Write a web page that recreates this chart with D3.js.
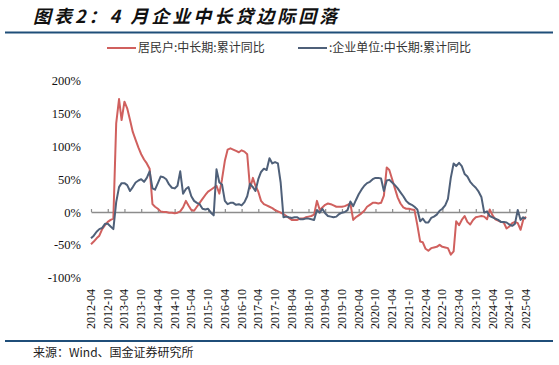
<!DOCTYPE html>
<html>
<head>
<meta charset="utf-8">
<script src="https://cdn.jsdelivr.net/npm/d3@7"></script>
<style>
  body { margin: 0; background: #fff; }
  svg { display: block; }
  .serif { font-family: "Liberation Serif", "Times New Roman", serif; }
</style>
</head>
<body>
<div id="chart"></div>
<script>
// Monthly series, 2012-04 to 2025-04 (cumulative YoY, %)
const startMonth = "2012-04";

const household = [
  -49, -45, -40, -36, -26, -20, -15, -12, -10, 135,
  172, 140, 168, 158, 140, 122, 110, 98, 88, 80,
  74, 66, 12, 8, 5, 1, 0, 0, -1, -1,
  -2, -1, 1, 7, 17, 10, 3, 2, 8, 14,
  20, 26, 31, 34, 37, 40, 28, 50, 78, 95,
  97, 95, 93, 91, 94, 92, 88, 36, 52, 40,
  31, 17, 12, 10, 8, 6, 3, 1, -1, -3,
  -6, -9, -12, -12, -12, -10, -10, -8, -7, -6,
  -4, 17, 3, 7, 11, 13, 12, 10, 8, 8,
  8, 9, 11, 13, -12, -8, -5, -2, 2, 8,
  11, 14, 14, 13, 14, 25, 68, 64, 50, 36,
  22, 13, 7, 5, 5, 4, 3, -20, -45, -46,
  -56, -59, -55, -54, -53, -50, -53, -54, -55, -65,
  -60, -14, -20, -12, -6, -15, -19, -12, -8, -7,
  -6, -7, -11, 4, -5, -11, -13, -15, -16, -25,
  -22, -17, -15, -17, -27, -12, -7
];

const corporate = [
  -40, -36, -30, -26, -24, -18, -18, -22, -26, 15,
  38, 44, 44, 41, 32, 38, 45, 48, 50, 46,
  52, 62, 36, 34, 44, 54, 53, 50, 42, 37,
  36, 40, 62, 28, 35, 38, 24, 17, 14, 12,
  5, 4, 5, -1, -5, 65, 45, 42, 17, 12,
  14, 14, 11, 12, 10, 15, 24, 43, 38, 32,
  50, 61, 66, 64, 82, 74, 76, 74, 45, -8,
  -7, -8, -9, -8, -8, -11, -11, -10, -10, -11,
  -12, 3, -1, 5, -2, -6, -7, -8, -7, -3,
  -1, 0, 3, 16, 9, 18, 27, 34, 40, 44,
  46, 50, 52, 52, 51, 32, 48, 49, 45, 41,
  36, 30, 24, 17, 13, 11, 8, 4, -14, -10,
  -16, -16, -9, -7, -4, 2, 5, 10, 20, 52,
  74, 70, 75, 70, 58, 54, 46, 41, 37, 31,
  23, -1, 1, -6, -8, -10, -12, -15, -15, -16,
  -19, -21, -18, 3, -12, -8, -10
];

const seriesNames = ["居民户:中长期:累计同比", ":企业单位:中长期:累计同比"];
const seriesColors = ["#d0605e", "#4f6079"];

const xTickLabels = [
  "2012-04", "2012-10", "2013-04", "2013-10", "2014-04", "2014-10",
  "2015-04", "2015-10", "2016-04", "2016-10", "2017-04", "2017-10",
  "2018-04", "2018-10", "2019-04", "2019-10", "2020-04", "2020-10",
  "2021-04", "2021-10", "2022-04", "2022-10", "2023-04", "2023-10",
  "2024-04", "2024-10", "2025-04"
];
const yTicks = [-100, -50, 0, 50, 100, 150, 200];

const width = 559;
const height = 365;
const ruleColor = "#1f4e79";

const parseMonth = d3.timeParse("%Y-%m");
const start = parseMonth(startMonth);
const dates = household.map((d, i) => d3.timeMonth.offset(start, i));

const svg = d3.select("#chart")
    .append("svg")
    .attr("width", width)
    .attr("height", height);

// Title and rules
svg.append("text")
    .attr("x", 33)
    .attr("y", 23)
    .style("font-family", "'Noto Sans CJK SC', sans-serif")
    .style("font-size", "18px")
    .style("font-weight", "bold")
    .style("font-style", "italic")
    .style("letter-spacing", "3px")
    .attr("fill", "#111")
    .text("图表2：4 月企业中长贷边际回落");

svg.append("line")
    .attr("x1", 5).attr("x2", 553)
    .attr("y1", 32.5).attr("y2", 32.5)
    .attr("stroke", ruleColor)
    .attr("stroke-width", 2);

svg.append("line")
    .attr("x1", 5).attr("x2", 553)
    .attr("y1", 341).attr("y2", 341)
    .attr("stroke", ruleColor)
    .attr("stroke-width", 2);

svg.append("text")
    .attr("x", 33)
    .attr("y", 357)
    .style("font-family", "'Noto Sans CJK SC', sans-serif")
    .style("font-size", "12px")
    .attr("fill", "#222")
    .text("来源：Wind、国金证券研究所");

// Scales
const x = d3.scaleTime()
    .domain([dates[0], dates[dates.length - 1]])
    .range([91, 526]);

const y = d3.scaleLinear()
    .domain([-100, 200])
    .range([277.7, 80.7]);

// Y labels (no axis line)
const yAxis = svg.append("g")
    .attr("transform", "translate(81,0)")
    .call(d3.axisLeft(y)
        .tickValues(yTicks)
        .tickSize(0)
        .tickPadding(0)
        .tickFormat(d => d + "%"));
yAxis.select(".domain").remove();
yAxis.attr("font-family", null);
yAxis.selectAll("text")
    .attr("class", "serif")
    .style("font-size", "12.5px")
    .attr("fill", "#111");

// X axis along zero line, ticks pointing up
const xTickDates = xTickLabels.map(parseMonth);
const xAxis = svg.append("g")
    .attr("transform", `translate(0,${y(0)})`)
    .call(d3.axisTop(x)
        .tickValues(xTickDates)
        .tickSizeInner(3)
        .tickSizeOuter(0)
        .tickFormat(""));
xAxis.select(".domain").attr("stroke", "#8c8c8c").attr("stroke-width", 1.5);
xAxis.selectAll(".tick line").attr("stroke", "#8c8c8c").attr("stroke-width", 1.2);

// X labels, rotated, along the bottom
svg.append("g")
    .selectAll("text")
    .data(xTickDates)
    .enter()
    .append("text")
    .attr("class", "serif")
    .attr("transform", d => `translate(${x(d) + 4},289) rotate(-90)`)
    .attr("text-anchor", "end")
    .style("font-size", "12px")
    .attr("fill", "#111")
    .text(d => d3.timeFormat("%Y-%m")(d));

// Lines
const line = d3.line()
    .x((d, i) => x(dates[i]))
    .y(d => y(d));

[household, corporate].forEach((series, k) => {
    svg.append("path")
        .datum(series)
        .attr("fill", "none")
        .attr("stroke", seriesColors[k])
        .attr("stroke-width", 2)
        .attr("stroke-linejoin", "round")
        .attr("d", line);
});

// Legend
const legendX = [107, 298];
seriesNames.forEach((name, k) => {
    svg.append("line")
        .attr("x1", legendX[k]).attr("x2", legendX[k] + 29)
        .attr("y1", 48).attr("y2", 48)
        .attr("stroke", seriesColors[k])
        .attr("stroke-width", 2);
    svg.append("text")
        .attr("x", legendX[k] + 31)
        .attr("y", 52)
        .style("font-family", "'Noto Sans CJK SC', sans-serif")
        .style("font-size", "12px")
        .attr("fill", "#333")
        .text(name);
});
</script>
</body>
</html>
